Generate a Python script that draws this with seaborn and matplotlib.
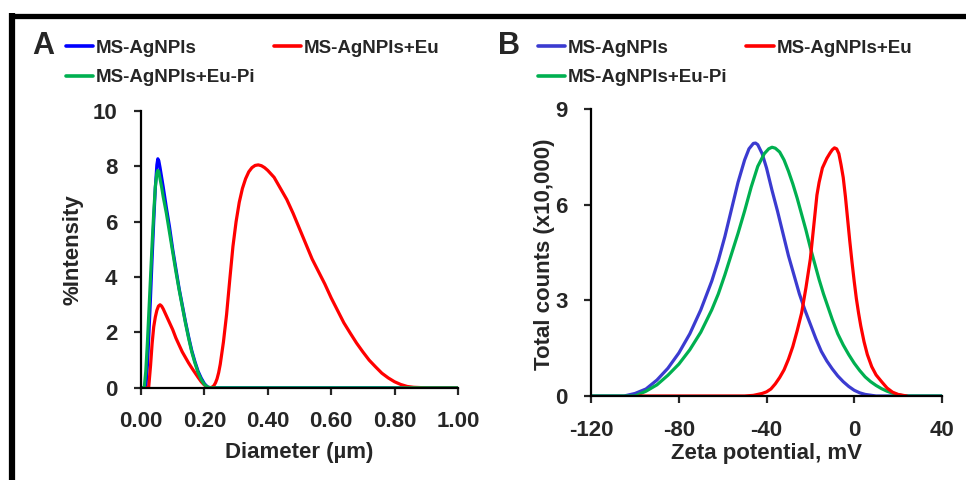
import matplotlib
matplotlib.use("Agg")
import matplotlib.pyplot as plt
from matplotlib.lines import Line2D
import seaborn as sns

# --- Panel A: size distribution (DLS) ---
dia_blue = [0.0, 0.015, 0.02, 0.025, 0.03, 0.035, 0.04, 0.045, 0.05, 0.053, 0.056, 0.06,
            0.065, 0.07, 0.08, 0.09, 0.10, 0.11, 0.12, 0.13, 0.14, 0.15, 0.16, 0.17, 0.18,
            0.19, 0.20, 0.21, 0.22, 1.0]
int_blue = [0, 0, 0.8, 2.0, 3.3, 4.7, 6.0, 7.2, 8.05, 8.27, 8.2, 7.95,
            7.6, 7.25, 6.5, 5.8, 5.0, 4.3, 3.6, 3.0, 2.4, 1.85, 1.35, 0.95, 0.6,
            0.35, 0.15, 0.03, 0, 0]

dia_green = [0.0, 0.01, 0.015, 0.02, 0.025, 0.03, 0.035, 0.04, 0.045, 0.05, 0.053, 0.056,
             0.06, 0.065, 0.07, 0.08, 0.09, 0.10, 0.11, 0.12, 0.13, 0.14, 0.15, 0.16,
             0.17, 0.18, 0.19, 0.20, 0.21, 0.22, 1.0]
int_green = [0, 0, 0.6, 1.6, 2.8, 4.0, 5.2, 6.3, 7.25, 7.75, 7.85, 7.8,
             7.55, 7.25, 6.9, 6.3, 5.6, 4.9, 4.2, 3.55, 2.95, 2.35, 1.8, 1.3,
             0.9, 0.55, 0.3, 0.12, 0.03, 0, 0]

dia_red = [0.0, 0.024, 0.03, 0.035, 0.04, 0.045, 0.05, 0.055, 0.06, 0.065, 0.07, 0.08,
           0.09, 0.10, 0.11, 0.12, 0.13, 0.14, 0.15, 0.16, 0.17, 0.18, 0.19, 0.20, 0.21,
           0.215, 0.22, 0.225, 0.23, 0.235, 0.24, 0.245, 0.25, 0.26, 0.27, 0.28, 0.29,
           0.30, 0.31, 0.32, 0.33, 0.34, 0.35, 0.36, 0.37, 0.38, 0.39, 0.40, 0.42, 0.44,
           0.46, 0.48, 0.50, 0.52, 0.54, 0.56, 0.58, 0.60, 0.62, 0.64, 0.66, 0.68, 0.70,
           0.72, 0.74, 0.76, 0.78, 0.80, 0.82, 0.84, 0.86, 0.90, 1.0]
int_red = [0, 0, 0.8, 1.6, 2.2, 2.55, 2.8, 2.95, 3.0, 2.95, 2.85, 2.6,
           2.35, 2.1, 1.8, 1.55, 1.3, 1.1, 0.9, 0.72, 0.55, 0.38, 0.22, 0.1, 0.02,
           0.0, 0.01, 0.03, 0.08, 0.18, 0.33, 0.55, 0.85, 1.65, 2.65, 3.9, 5.1,
           6.0, 6.7, 7.2, 7.55, 7.8, 7.95, 8.03, 8.05, 8.02, 7.95, 7.85, 7.6, 7.2,
           6.8, 6.3, 5.75, 5.2, 4.65, 4.2, 3.75, 3.25, 2.8, 2.35, 1.98, 1.62, 1.3,
           1.0, 0.76, 0.53, 0.36, 0.22, 0.12, 0.05, 0.02, 0, 0]

# --- Panel B: zeta potential ---
zeta_blue = [-120, -105, -100, -95, -90, -85, -80, -75, -70, -65, -62, -59, -56, -53, -50,
             -48, -46, -45, -44, -42, -40, -37.5, -35, -32.5, -30, -27.5, -25, -22.5, -20,
             -17.5, -15, -12.5, -10, -7.5, -5, -2.5, 0, 2.5, 5, 10, 40]
cnt_blue = [0, 0, 0.08, 0.22, 0.5, 0.87, 1.35, 1.95, 2.7, 3.6, 4.25, 5.0, 5.85, 6.7, 7.4,
            7.75, 7.92, 7.93, 7.88, 7.6, 7.15, 6.45, 5.8, 5.1, 4.4, 3.8, 3.2, 2.7, 2.25,
            1.8, 1.4, 1.1, 0.85, 0.63, 0.45, 0.3, 0.18, 0.1, 0.05, 0, 0]

zeta_green = [-120, -100, -95, -90, -85, -80, -75, -70, -65, -62, -59, -56, -53, -50, -47,
              -44, -41, -39, -37.5, -36, -34, -32, -30, -28, -26, -24, -22, -20, -18, -16,
              -14, -12, -10, -7.5, -5, -2.5, 0, 2.5, 5, 7.5, 10, 12.5, 15, 17.5, 20, 23, 40]
cnt_green = [0, 0, 0.15, 0.35, 0.65, 1.0, 1.45, 2.0, 2.7, 3.2, 3.8, 4.45, 5.1, 5.8, 6.55,
             7.2, 7.6, 7.75, 7.8, 7.77, 7.65, 7.4, 7.05, 6.65, 6.2, 5.7, 5.2, 4.65, 4.15, 3.65,
             3.2, 2.8, 2.4, 1.95, 1.6, 1.3, 1.03, 0.8, 0.6, 0.45, 0.33, 0.23, 0.15, 0.09, 0.04, 0, 0]

zeta_red = [-98, -50, -46, -42, -40, -38, -36, -34, -32, -30, -28, -26, -24, -22, -20,
            -18.5, -17, -16, -14.5, -12.5, -11, -10, -9, -8, -7, -6, -5, -4, -3, -2, -1,
            0, 1, 2, 3, 4.5, 6, 8, 10, 12.5, 15, 17.5, 20, 24]
cnt_red = [0, 0, 0.02, 0.08, 0.13, 0.22, 0.38, 0.58, 0.82, 1.15, 1.55, 2.05, 2.6, 3.4, 4.3,
           5.3, 6.3, 6.7, 7.15, 7.45, 7.62, 7.72, 7.78, 7.75, 7.6, 7.25, 6.85, 6.25, 5.55, 4.85, 4.2,
           3.6, 3.05, 2.6, 2.2, 1.7, 1.3, 0.92, 0.66, 0.45, 0.25, 0.12, 0.05, 0]

labels = ["MS-AgNPls", "MS-AgNPls+Eu", "MS-AgNPls+Eu-Pi"]

sns.set_style("ticks")
plt.rcParams["font.family"] = ["Liberation Sans", "DejaVu Sans"]
plt.rcParams["font.weight"] = "bold"
plt.rcParams["axes.unicode_minus"] = False

fig = plt.figure(figsize=(9.66, 4.8), dpi=100)
axA = fig.add_axes([0.146, 0.192, 0.328, 0.577])
axB = fig.add_axes([0.612, 0.175, 0.363, 0.598])

lw = 2.3
sns.lineplot(x=dia_blue, y=int_blue, color="#0000FF", lw=lw, ax=axA, estimator=None)
sns.lineplot(x=dia_red, y=int_red, color="#FF0000", lw=lw, ax=axA, estimator=None)
sns.lineplot(x=dia_green, y=int_green, color="#00B050", lw=lw, ax=axA, estimator=None)

sns.lineplot(x=zeta_blue, y=cnt_blue, color="#3B3BD0", lw=lw, ax=axB, estimator=None)
sns.lineplot(x=zeta_green, y=cnt_green, color="#00B050", lw=lw, ax=axB, estimator=None)
sns.lineplot(x=zeta_red, y=cnt_red, color="#FF0000", lw=lw, ax=axB, estimator=None)

axA.set_xlim(0, 1.0)
axA.set_ylim(0, 10)
axA.set_xticks([0, 0.2, 0.4, 0.6, 0.8, 1.0])
axA.set_xticklabels(["0.00", "0.20", "0.40", "0.60", "0.80", "1.00"])
axA.set_yticks([0, 2, 4, 6, 8, 10])
axA.set_xlabel("Diameter (µm)", fontsize=16, fontweight="bold")
axA.set_ylabel("%Intensity", fontsize=16, fontweight="bold")

axB.set_xlim(-120, 40)
axB.set_ylim(0, 9)
axB.set_xticks([-120, -80, -40, 0, 40])
axB.set_yticks([0, 3, 6, 9])
axB.set_xlabel("Zeta potential, mV", fontsize=16, fontweight="bold")
axB.set_ylabel("Total counts (x10,000)", fontsize=16, fontweight="bold")

for ax in (axA, axB):
    sns.despine(ax=ax)
    for s in ("left", "bottom"):
        ax.spines[s].set_linewidth(1.6)
        ax.spines[s].set_color("black")
    ax.tick_params(direction="out", length=5, width=1.6, labelsize=16)
    ax.tick_params(axis="x", pad=12)
    ax.tick_params(axis="y", pad=12)
    for t in ax.get_xticklabels() + ax.get_yticklabels():
        t.set_fontweight("bold")
    ax.set_facecolor("white")

axA.xaxis.set_label_coords(0.5, -0.195)
axA.yaxis.set_label_coords(-0.183, 0.5)
axB.xaxis.set_label_coords(0.4986, -0.162)
axB.yaxis.set_label_coords(-0.103, 0.495)

# legends
for ax, cols, x0, letter, lx in ((axA, ["#0000FF", "#FF0000", "#00B050"], 0.068, "A", 0.033),
                                 (axB, ["#3B3BD0", "#FF0000", "#00B050"], 0.557, "B", 0.516)):
    h = [Line2D([], [], color=c, lw=2.6) for c in cols]
    order = [0, 2, 1]
    fig.legend([h[i] for i in order], [labels[i] for i in order], ncol=2,
               loc="upper left", bbox_to_anchor=(x0, 0.917), frameon=False,
               prop={"size": 13.5, "weight": "bold"}, handlelength=1.45,
               handletextpad=0.15, columnspacing=1.0, labelspacing=0.65,
               borderpad=0, borderaxespad=0)
    fig.text(lx, 0.904, letter, fontsize=22, fontweight="bold", ha="left", va="center")

# black frame (top and left)
fig.add_artist(Line2D([0.0093, 1.0], [0.9677, 0.9677], color="black", lw=3.8,
                      transform=fig.transFigure, solid_capstyle="butt"))
fig.add_artist(Line2D([0.0124, 0.0124], [0.0, 0.972], color="black", lw=4.5,
                      transform=fig.transFigure, solid_capstyle="butt"))

fig.savefig("out.png", dpi=100, facecolor="white")
